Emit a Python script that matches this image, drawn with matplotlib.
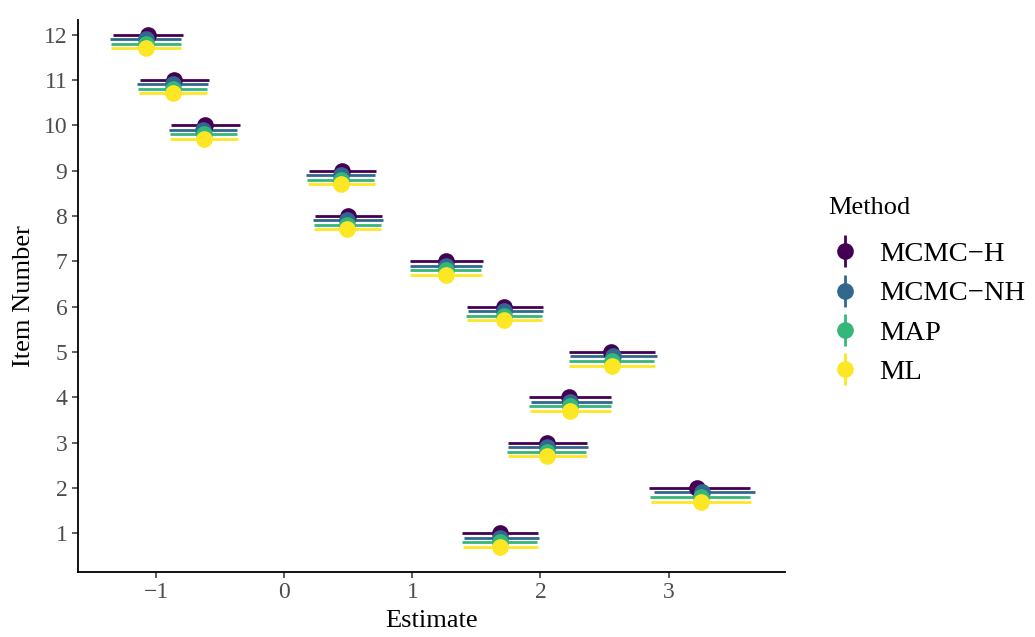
import matplotlib
matplotlib.use("Agg")
import matplotlib.pyplot as plt
from matplotlib.lines import Line2D
from matplotlib.legend_handler import HandlerTuple
import numpy as np

plt.rcParams["font.family"] = ["Liberation Serif", "DejaVu Serif"]

items = np.arange(1, 13)
methods = ["MCMC\u2212H", "MCMC\u2212NH", "MAP", "ML"]
colors = ["#440154", "#31688E", "#35B779", "#FDE725"]
offsets = [0.0, -0.1, -0.2, -0.3]

# point estimates, items 1..12
est_mcmc_h = [1.685, 3.226, 2.049, 2.226, 2.552, 1.716, 1.263, 0.500, 0.448, -0.620, -0.860, -1.067]
est_mcmc_nh = [1.685, 3.261, 2.052, 2.232, 2.563, 1.718, 1.263, 0.487, 0.440, -0.633, -0.867, -1.081]
est_map = [1.685, 3.253, 2.052, 2.234, 2.560, 1.718, 1.263, 0.490, 0.443, -0.630, -0.870, -1.081]
est_ml = [1.685, 3.255, 2.052, 2.234, 2.560, 1.718, 1.263, 0.490, 0.443, -0.630, -0.870, -1.081]

# interval bounds
lo_mcmc_h = [1.390, 2.849, 1.745, 1.914, 2.219, 1.427, 0.982, 0.242, 0.193, -0.888, -1.127, -1.341]
hi_mcmc_h = [1.984, 3.638, 2.365, 2.549, 2.896, 2.018, 1.554, 0.761, 0.716, -0.349, -0.591, -0.794]
lo_mcmc_nh = [1.406, 2.883, 1.750, 1.927, 2.232, 1.437, 0.982, 0.224, 0.172, -0.903, -1.153, -1.364]
hi_mcmc_nh = [1.990, 3.672, 2.372, 2.560, 2.911, 2.023, 1.547, 0.768, 0.708, -0.372, -0.599, -0.810]
lo_map = [1.390, 2.859, 1.740, 1.914, 2.219, 1.422, 0.982, 0.229, 0.179, -0.893, -1.141, -1.354]
hi_map = [1.974, 3.638, 2.357, 2.547, 2.890, 2.011, 1.539, 0.753, 0.703, -0.367, -0.604, -0.810]
lo_ml = [1.396, 2.865, 1.745, 1.919, 2.224, 1.427, 0.984, 0.232, 0.183, -0.893, -1.135, -1.352]
hi_ml = [1.979, 3.648, 2.362, 2.552, 2.896, 2.013, 1.542, 0.755, 0.708, -0.364, -0.602, -0.810]

ests = [est_mcmc_h, est_mcmc_nh, est_map, est_ml]
los = [lo_mcmc_h, lo_mcmc_nh, lo_map, lo_ml]
his = [hi_mcmc_h, hi_mcmc_nh, hi_map, hi_ml]

fig = plt.figure(figsize=(10.35, 6.37), dpi=100)
ax = fig.add_axes([0.0751, 0.1025, 0.6834, 0.8661])

# interval lines first, points on top
for k in range(4):
    ax.hlines(items + offsets[k], los[k], his[k], colors=colors[k], lw=2, zorder=2)
for k in range(4):
    ax.plot(np.array(ests[k]), items + offsets[k], "o", color=colors[k],
            markersize=12, markeredgewidth=0, zorder=3)

ax.set_xlim(-1.614, 3.91)
ax.set_ylim(0.153, 12.32)
ax.set_xticks([-1, 0, 1, 2, 3])
ax.set_yticks(items)

for s in ["top", "right"]:
    ax.spines[s].set_visible(False)
for s in ["left", "bottom"]:
    ax.spines[s].set_linewidth(1.3)
ax.tick_params(direction="out", length=4, width=1.1, color="#333333",
               labelcolor="#4D4D4D", labelsize=17)

ax.set_xlabel("Estimate", fontsize=19, labelpad=5)
ax.set_ylabel("Item Number", fontsize=19, labelpad=6)

handles = []
for c in colors:
    bar = Line2D([], [], marker="|", color=c, linestyle="none",
                 markersize=23, markeredgewidth=2)
    dot = Line2D([], [], marker="o", color=c, linestyle="none",
                 markersize=12, markeredgewidth=0)
    handles.append((bar, dot))

fig.text(828 / 1035, 1 - 208 / 637, "Method", fontsize=19, ha="left", va="center")
leg = fig.legend(handles, methods, handler_map={tuple: HandlerTuple(ndivide=1)},
                 loc="upper left", bbox_to_anchor=(0.7844, 1 - 227 / 637), frameon=False,
                 fontsize=20.5, handlelength=1.3, handletextpad=0.55, labelspacing=0.47,
                 borderpad=0)

fig.savefig("out.png", dpi=100)
